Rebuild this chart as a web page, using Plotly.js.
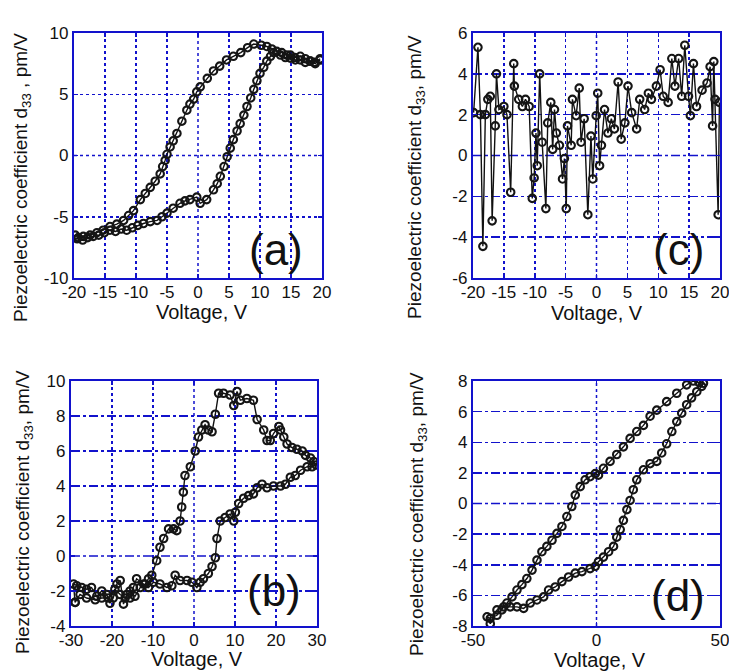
<!DOCTYPE html>
<html>
<head>
<meta charset="utf-8">
<script src="https://cdn.plot.ly/plotly-3.0.1.min.js"></script>
<style>html,body{margin:0;padding:0;background:#fff}#chart{width:729px;height:671px}</style>
</head>
<body>
<div id="chart"></div>
<script>
// ---------- Panel (a) ----------
const voltageA_up = [19.7,18.8,18.1,17.3,16.5,15.6,14.9,14.3,13.5,12.7,11.9,11.1,10.2,9.0,8.0,6.9,5.7,4.6,3.5,2.5,1.5,0.35,-0.2,-0.7,-1.3,-1.8,-2.6,-3.4,-4.0,-4.5,-5.0,-5.3,-5.7,-6.1,-6.9,-7.7,-8.5,-9.3,-10.4,-11.2,-12.0,-13.1,-14.2,-15.3,-16.3,-17.4,-18.5,-19.3,-19.8];
const d33A_up = [7.9,7.6,7.7,7.9,8.1,8.0,8.2,8.2,8.4,8.5,8.7,8.9,9.0,9.1,8.8,8.4,8.1,7.8,7.3,6.9,6.3,5.6,5.2,4.6,4.2,3.7,2.8,1.8,1.2,0.7,0.1,-0.4,-0.9,-1.5,-2.1,-2.6,-3.1,-3.6,-4.5,-4.9,-5.3,-5.6,-5.8,-6.1,-6.3,-6.5,-6.6,-6.7,-6.5];
const voltageA_low = [-19.5,-18.6,-17.8,-16.9,-16.0,-15.1,-14.2,-13.3,-12.4,-11.5,-10.6,-9.7,-8.8,-7.7,-6.6,-5.8,-5.0,-4.0,-2.9,-2.1,-1.3,-0.2,0.35,1.4,2.5,3.1,3.6,4.2,4.7,5.2,5.7,6.3,6.8,7.4,7.9,8.5,9.0,9.5,10.0,10.6,11.1,11.7,12.2,13.3,14.1,14.9,15.7,16.5,17.3,18.1,18.9,19.7];
const d33A_low = [-6.8,-6.9,-6.7,-6.6,-6.5,-6.3,-6.1,-6.2,-6.0,-6.1,-5.9,-5.7,-5.55,-5.4,-5.3,-5.0,-4.7,-4.3,-3.9,-3.7,-3.6,-3.4,-3.9,-3.6,-2.8,-2.3,-1.7,-0.9,-0.1,0.6,1.3,2.0,2.6,3.3,4.0,4.7,5.4,6.1,6.7,7.2,7.7,8.1,8.4,8.2,8.0,7.95,7.8,7.8,7.6,7.7,7.5,7.8];

// ---------- Panel (b) ----------
const voltageB_ret = [-29.0,-27.8,-26.2,-24.1,-22.5,-20.9,-19.3,-18.0,-16.8,-15.6,-14.4,-13.1,-11.9];
const d33B_ret = [-2.65,-2.2,-2.4,-2.5,-2.4,-2.4,-1.9,-2.2,-2.4,-2.0,-2.3,-1.8,-1.6];
const voltageB_up = [-11.1,-10.3,-9.1,-8.3,-7.4,-6.2,-5.0,-4.2,-3.4,-3.0,-2.6,-2.2,-0.9,0.3,1.1,1.9,2.7,3.5,4.4,5.2,6.0,7.2,8.8,9.7,10.5,11.3,12.9,14.5,15.4,17.0,17.8,18.6,19.4,20.7,21.1,21.9,22.7,23.9,25.1,26.4,27.2,28.4,29.2];
const d33B_up = [-1.3,-1.1,-0.27,0.5,1.0,1.55,1.55,1.45,2.0,2.8,3.65,4.6,5.1,6.0,6.8,7.2,7.5,7.2,7.1,8.1,9.3,9.3,9.2,8.6,9.4,8.9,9.0,8.9,7.8,7.2,6.6,6.6,7.0,7.4,7.2,6.8,6.4,6.2,6.1,6.0,5.75,5.6,5.4];
const voltageB_low = [29.8,28.8,27.6,26.0,24.7,23.5,22.3,21.1,19.4,17.8,16.6,15.4,14.5,13.3,12.1,10.9,10.1,9.7,8.8,7.6,6.4,5.6,5.2,4.4,3.5,2.3,1.5,0.7,-0.5,-1.7,-3.4,-4.6,-5.4,-6.6,-8.3,-9.9,-11.1,-12.3,-14.0,-14.8,-15.6,-16.4,-17.2,-18.0,-18.8,-19.7,-20.5,-21.3,-22.5,-23.7,-25.0,-26.2,-27.4,-28.6,-29.4,-29.0];
const d33B_low = [5.2,5.1,5.1,4.9,4.6,4.5,4.1,4.0,4.0,3.9,4.1,3.9,3.55,3.45,3.3,3.0,2.5,2.0,2.4,2.2,2.0,1.0,-0.1,-0.6,-1.0,-1.3,-1.5,-1.8,-1.5,-1.4,-1.4,-1.1,-1.7,-1.8,-1.6,-1.5,-1.8,-1.6,-1.3,-1.8,-2.4,-2.2,-2.75,-1.4,-1.6,-2.4,-2.7,-2.2,-2.0,-2.3,-1.8,-1.9,-1.8,-1.7,-1.6,-2.65];

// ---------- Panel (c) ----------
const voltageC = [-19.9,-19.2,-18.8,-18.4,-18.0,-17.6,-17.2,-16.9,-16.4,-16.2,-15.8,-15.0,-14.5,-13.9,-13.4,-13.3,-12.6,-12.0,-11.5,-10.9,-10.4,-10.1,-9.8,-9.6,-9.2,-8.8,-8.2,-7.9,-7.4,-7.1,-6.8,-6.5,-6.0,-5.5,-5.2,-4.9,-4.7,-4.1,-3.9,-3.3,-2.8,-2.5,-2.0,-1.4,-0.9,-0.6,-0.05,0.2,0.5,0.8,1.3,1.85,2.4,2.9,3.5,4.0,4.6,5.1,5.7,6.5,7.0,7.8,8.4,8.9,9.7,10.3,10.8,11.6,12.2,12.7,13.3,13.8,14.3,14.9,15.2,15.7,16.2,17.1,17.9,18.4,18.8,19.0,19.2,19.7,19.9];
const d33C = [2.1,5.3,2.0,-4.45,2.0,2.75,2.9,-3.2,1.45,4.0,2.25,2.4,2.0,-1.8,4.5,3.4,2.75,2.4,2.75,2.4,-2.1,-1.1,1.1,-0.5,4.0,0.65,-2.6,1.6,2.6,0.3,2.25,1.1,0.5,-1.15,-0.15,-2.6,1.45,0.5,2.75,1.95,3.3,0.65,1.8,-2.9,0.95,-1.15,1.95,3.05,-0.5,0.5,2.25,1.1,1.8,1.3,3.6,0.8,1.6,3.4,2.1,1.3,2.75,2.25,3.05,2.75,3.4,4.2,2.9,2.6,4.75,3.4,4.75,2.9,5.4,2.9,1.95,4.5,2.4,3.2,3.55,4.35,1.45,4.6,2.75,-2.9,2.6];

// ---------- Panel (d) ----------
const voltageD_up = [41.5,39.2,36.5,32.5,28.4,24.4,21.7,19,16.3,13.6,10.9,8.2,5.5,2.8,0.8,-0.5,-2.6,-4.6,-6.6,-8.6,-10,-12,-14,-16,-18,-20.1,-22.1,-24.1,-26.1,-28.2,-30.2,-32.2,-34.2,-36.3,-38.3,-40.3,-43,-44.3,-43];
const d33D_up = [7.9,8.0,7.75,7.2,6.65,6.1,5.7,5.1,4.7,4.25,3.7,3.2,2.75,2.3,1.85,1.95,1.75,1.55,1.1,0.55,-0.2,-0.85,-1.5,-1.95,-2.4,-2.8,-3.15,-3.7,-4.35,-4.9,-5.3,-5.65,-6.1,-6.5,-6.95,-7.3,-7.5,-7.4,-7.85];
const voltageD_low = [-40.3,-37.6,-34.9,-32.2,-29.5,-26.8,-24.1,-21.4,-19.4,-16.7,-14,-11.3,-8.6,-5.9,-2.6,-0.5,0.8,2.8,4.9,6.9,8.2,9.6,10.9,12.3,13.6,14.9,16.3,19,21.7,24.4,26.4,28.4,30.5,32.5,34.5,36.5,38.5,40.6,42.6,43.3];
const d33D_low = [-6.95,-6.75,-6.75,-6.75,-6.85,-6.5,-6.3,-6.1,-5.65,-5.45,-5.1,-4.8,-4.55,-4.45,-4.25,-4.1,-3.8,-3.5,-3.15,-2.8,-2.2,-1.7,-1.1,-0.4,0.2,0.9,1.55,2.2,2.6,2.75,3.3,3.9,4.7,5.35,5.9,6.45,6.9,7.3,7.65,7.85];

// ---------- Tick labels (plain hyphen minus as in the figure) ----------
const ticksX20 = [-20, -15, -10, -5, 0, 5, 10, 15, 20];
const ticksX30 = [-30, -20, -10, 0, 10, 20, 30];
const ticksX50 = [-50, 0, 50];
const ticksYA = [-10, -5, 0, 5, 10];
const ticksYC = [-6, -4, -2, 0, 2, 4, 6];
const ticksYB = [-4, -2, 0, 2, 4, 6, 8, 10];
const ticksYD = [-8, -6, -4, -2, 0, 2, 4, 6, 8];
const tickText = vals => vals.map(v => String(v)); // "-20", not "−20"

// ---------- Labels ----------
const xTitle = "Voltage, V";
const yTitleA = "Piezoelectric coefficient d<sub>33</sub> , pm/V";
const yTitleOther = "Piezoelectric coefficient d<sub>33</sub>, pm/V";
const panelLabels = ["(a)", "(c)", "(b)", "(d)"];

// ---------- Layout helpers ----------
const W = 729, H = 671;
const px = v => v / W;
const py = v => 1 - v / H;
const FONT = "Liberation Sans, Arial, Helvetica, sans-serif";
const BLUE = "#1212cc";

function trace(x, y, xa, ya) {
  return {
    x: x, y: y, xaxis: xa, yaxis: ya, type: "scatter", mode: "lines+markers",
    line: {color: "#111", width: 1.4},
    marker: {symbol: "circle-open", size: 7.5, color: "#151515", line: {width: 2.1, color: "#151515"}},
    showlegend: false, hoverinfo: "skip"
  };
}

function common(dom, range, vals, anchor, dash) {
  return {
    domain: dom, range: range, tickmode: "array", tickvals: vals, ticktext: tickText(vals), anchor: anchor,
    showline: true, linecolor: BLUE, linewidth: 2.2, mirror: "ticks",
    ticks: "inside", ticklen: 4, tickcolor: BLUE, tickwidth: 1.5,
    showgrid: true, gridcolor: BLUE, gridwidth: 1.5, griddash: dash,
    zeroline: true, zerolinecolor: "rgba(0,0,0,0)", zerolinewidth: 0.1,
    tickfont: {family: FONT, size: 17, color: "#111"},
    ticklabeloverflow: "allow",
    automargin: false
  };
}
function xAx(dom, range, vals, anchor) {
  return Object.assign(common(dom, range, vals, anchor, "dot"), {ticklabelstandoff: -3});
}

const data = [
  trace(voltageA_up, d33A_up, "x", "y"),
  trace(voltageA_low, d33A_low, "x", "y"),
  trace(voltageC, d33C, "x2", "y2"),
  trace(voltageB_ret.concat(voltageB_up, voltageB_low), d33B_ret.concat(d33B_up, d33B_low), "x3", "y3"),
  trace(voltageD_up.concat(voltageD_low), d33D_up.concat(d33D_low), "x4", "y4")
];

function ann(text, x, y, size, angle) {
  return {text: text, xref: "paper", yref: "paper", x: px(x), y: py(y),
    xanchor: "center", yanchor: "middle", showarrow: false, textangle: angle || 0,
    font: {family: FONT, size: size, color: "#111"}};
}

// zero grid lines drawn as dashed shapes (same style as the other grid lines)
function hZero(xa, ya, dash) {
  return {type: "line", xref: xa + " domain", yref: ya, x0: 0, x1: 1, y0: 0, y1: 0,
    line: {color: BLUE, width: 1.5, dash: dash}, layer: "below"};
}
function vZero(xa, ya) {
  return {type: "line", xref: xa, yref: ya + " domain", x0: 0, x1: 0, y0: 0, y1: 1,
    line: {color: BLUE, width: 1.5, dash: "dot"}, layer: "below"};
}

const layout = {
  width: W, height: H, margin: {l: 0, r: 0, t: 0, b: 0},
  paper_bgcolor: "#fff", plot_bgcolor: "#fff",
  xaxis:  xAx([px(74), px(322)], [-20, 20], ticksX20, "y"),
  yaxis:  common([py(278), py(33)], [-10, 10], ticksYA, "x", "dot"),
  xaxis2: xAx([px(473), px(720)], [-20, 20], ticksX20, "y2"),
  yaxis2: common([py(278), py(33)], [-6, 6], ticksYC, "x2", "dashdot"),
  xaxis3: xAx([px(71), px(317)], [-30, 30], ticksX30, "y3"),
  yaxis3: common([py(626), py(381)], [-4, 10], ticksYB, "x3", "dashdot"),
  xaxis4: xAx([px(473), px(720)], [-50, 50], ticksX50, "y4"),
  yaxis4: common([py(626), py(381)], [-8, 8], ticksYD, "x4", "dashdot"),
  shapes: [
    hZero("x", "y", "dot"), vZero("x", "y"),
    hZero("x2", "y2", "dashdot"), vZero("x2", "y2"),
    hZero("x3", "y3", "dashdot"), vZero("x3", "y3"),
    hZero("x4", "y4", "dashdot"), vZero("x4", "y4")
  ],
  annotations: [
    ann(xTitle, 202, 312, 20),
    ann(xTitle, 597, 313, 20),
    ann(xTitle, 197, 659, 20),
    ann(xTitle, 600, 660, 20),
    ann(yTitleA, 22, 178, 19, -90),
    ann(yTitleOther, 416, 177, 19, -90),
    ann(yTitleOther, 24, 512, 19, -90),
    ann(yTitleOther, 418, 514, 19, -90),
    ann(panelLabels[0], 276, 250, 44),
    ann(panelLabels[1], 678, 250, 44),
    ann(panelLabels[2], 274, 590, 44),
    ann(panelLabels[3], 678, 595, 44)
  ]
};

Plotly.newPlot("chart", data, layout, {staticPlot: true, displayModeBar: false});
</script>
</body>
</html>
